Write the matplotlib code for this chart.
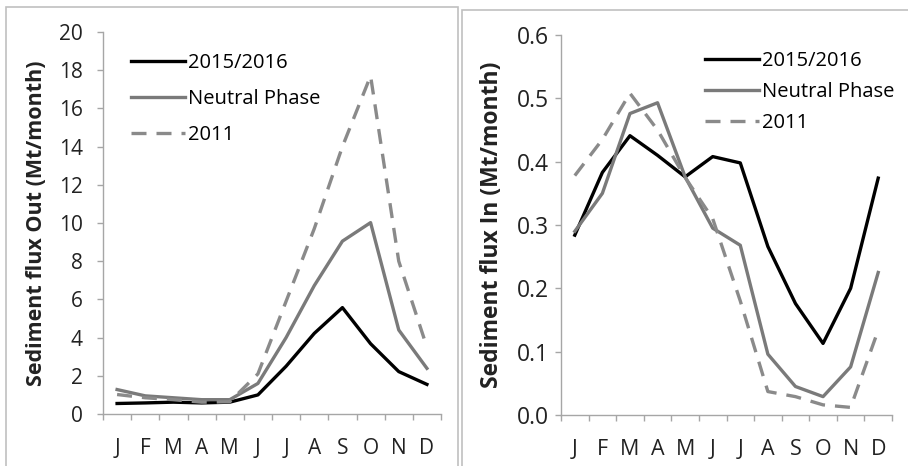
import numpy as np
import matplotlib
matplotlib.use("Agg")
import matplotlib.pyplot as plt
from matplotlib.patches import Rectangle

months = ["J", "F", "M", "A", "M", "J", "J", "A", "S", "O", "N", "D"]
series_names = ["2015/2016", "Neutral Phase", "2011"]

# sediment flux out (Mt/month)
out_2015 = [0.55, 0.58, 0.62, 0.58, 0.62, 1.0, 2.5, 4.22, 5.57, 3.68, 2.22, 1.55]
out_neutral = [1.28, 0.95, 0.85, 0.75, 0.75, 1.6, 4.0, 6.72, 9.05, 10.02, 4.4, 2.39]
out_2011 = [1.02, 0.85, 0.75, 0.62, 0.64, 2.1, 5.9, 9.7, 14.0, 17.7, 8.0, 3.5]

# sediment flux in (Mt/month)
in_2015 = [0.284, 0.383, 0.441, 0.41, 0.376, 0.408, 0.398, 0.266, 0.176, 0.113, 0.2, 0.374]
in_neutral = [0.29, 0.35, 0.476, 0.493, 0.376, 0.295, 0.268, 0.096, 0.045, 0.029, 0.076, 0.225]
in_2011 = [0.378, 0.435, 0.508, 0.45, 0.375, 0.31, 0.18, 0.037, 0.029, 0.016, 0.012, 0.134]

plt.rcParams['font.family'] = ['Open Sans', 'DejaVu Sans']

W, H = 908, 466
fig = plt.figure(figsize=(W / 100, H / 100), dpi=100)

def px(x0, y0, x1, y1):
    # pixel box (top-left origin) -> figure fraction
    return [x0 / W, 1 - y1 / H, (x1 - x0) / W, (y1 - y0) / H]

# panel frames
fig.patches.append(Rectangle((6 / W, -0.1), (458 - 6) / W, 1.1 - 7 / H,
                             transform=fig.transFigure, fill=False,
                             edgecolor="#c0c0c0", lw=1.2))
fig.patches.append(Rectangle((462 / W, -0.1), 0.6, 1.1 - 10 / H,
                             transform=fig.transFigure, fill=False,
                             edgecolor="#c0c0c0", lw=1.2))

styles = [
    dict(color="black", lw=2.4, ls="-"),
    dict(color="#7a7a7a", lw=2.4, ls="-"),
    dict(color="#8a8a8a", lw=2.4, ls=(0, (4.5, 3))),
]

def draw(ax, data, ymax, ystep, fmt, ylabel, ypad, ysize, xsize, labsize,
         leg_anchor, leg_space):
    x = np.arange(1, 13)
    for vals, name, st in zip(data, series_names, styles):
        ax.plot(x, vals, label=name, **st)
    ax.set_xlim(0.5, 12.5)
    ax.set_ylim(0, ymax)
    ticks = np.arange(0, ymax + ystep / 2, ystep)
    ax.set_yticks(ticks)
    ax.set_yticklabels([fmt.format(v) for v in ticks])
    ax.set_xticks(np.arange(0.5, 13, 1))
    ax.set_xticklabels([])
    ax.set_xticks(x, minor=True)
    ax.set_xticklabels(months, minor=True)
    for s in ["top", "right"]:
        ax.spines[s].set_visible(False)
    for s in ["left", "bottom"]:
        ax.spines[s].set_color("#a6a6a6")
        ax.spines[s].set_linewidth(1.0)
    ax.tick_params(axis="both", which="major", direction="out", length=4.5,
                   color="#a6a6a6", width=1.0, colors="#222222")
    ax.tick_params(axis="y", pad=ypad, labelsize=ysize)
    ax.tick_params(axis="x", which="minor", length=0, pad=17, labelsize=xsize,
                   colors="#222222")
    ax.set_ylabel(ylabel, fontsize=labsize, fontweight="bold", color="#222222")
    ax.legend(loc="upper left", bbox_to_anchor=leg_anchor, frameon=False,
              fontsize=14.5, handlelength=2.7, handletextpad=0.15,
              labelspacing=leg_space, borderaxespad=0)

ax1 = fig.add_axes(px(103, 32, 441, 414))
draw(ax1, [out_2015, out_neutral, out_2011], 20, 2, "{:.0f}",
     "Sediment flux Out (Mt/month)", 10, 15, 15, 15.5, (0.058, 0.965), 0.78)
ax1.yaxis.set_label_coords(-0.166, 0.5)

ax2 = fig.add_axes(px(561, 35, 892, 415))
draw(ax2, [in_2015, in_neutral, in_2011], 0.6, 0.1, "{:.1f}",
     "Sediment flux In (Mt/month)", 4, 16.5, 15.5, 16.5, (0.41, 0.98), 0.55)
ax2.yaxis.set_label_coords(-0.173, 0.5)

fig.savefig("out.png", dpi=100)
